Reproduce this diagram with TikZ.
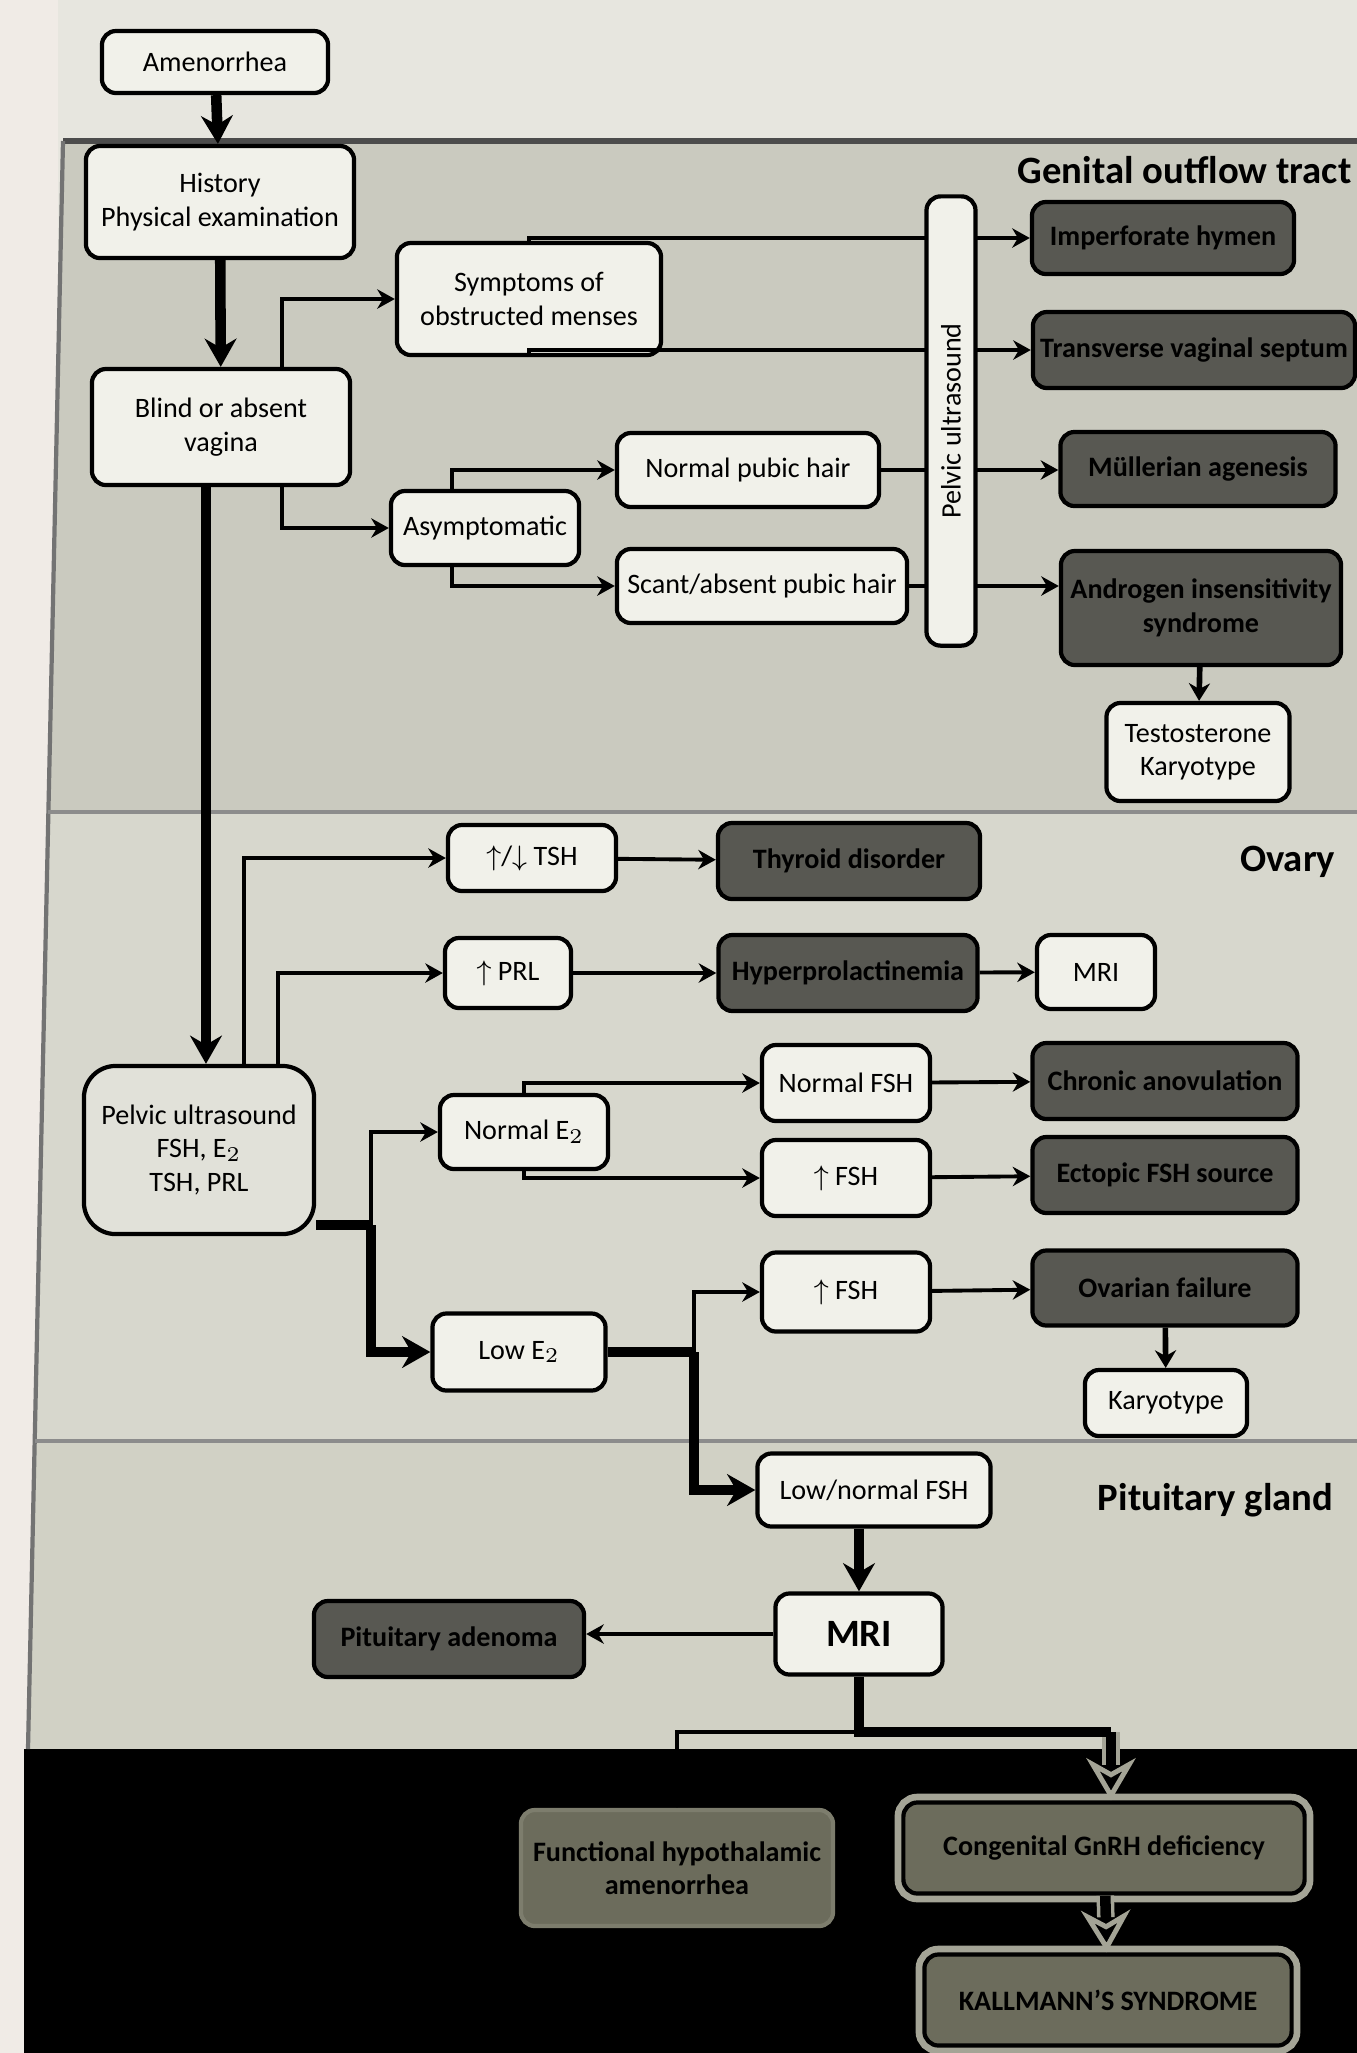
\documentclass[tikz,border=0pt]{standalone}
\usepackage{fontspec}
\setmainfont{Carlito}
\usepackage{tikz}
\usetikzlibrary{shapes.geometric, arrows, arrows.meta}
\definecolor{paper}{HTML}{E7E6DF}
\definecolor{margin}{HTML}{F0EBE6}
\definecolor{outflow}{HTML}{CACABF}
\definecolor{ovary}{HTML}{D7D7CD}
\definecolor{pituitary}{HTML}{D1D1C5}
\definecolor{boxfill}{HTML}{F1F1EA}
\definecolor{labfill}{HTML}{E1E1D9}
\definecolor{diagfill}{HTML}{585852}
\definecolor{hypofill}{HTML}{6C6C5C}
\definecolor{ringgray}{HTML}{A4A496}
\tikzstyle{box} = [rectangle, rounded corners=4pt, draw=black, line width=1.2pt, fill=boxfill, text centered, align=center, font=\footnotesize, inner sep=2pt]
\tikzstyle{diag} = [box, fill=diagfill, font=\footnotesize\bfseries]
\tikzstyle{hypo} = [box, fill=hypofill, font=\footnotesize\bfseries, preaction={draw=ringgray, line width=5pt}]
\tikzstyle{hypoplain} = [box, fill=hypofill, draw=hypofill!70!ringgray, font=\footnotesize\bfseries]
\tikzstyle{region} = [font=\fontsize{11}{13}\selectfont\bfseries, inner sep=0pt]
\tikzstyle{arrow} = [line width=1.1pt,-{Stealth[length=5pt,width=5.5pt]}]
\tikzstyle{midarrow} = [line width=1.6pt,-{Stealth[length=5pt,width=6pt]}]
\tikzstyle{thickarrow} = [line width=3pt,-{Stealth[length=8pt,width=9pt]}]
\tikzstyle{haloarrow} = [line width=3pt,-{Stealth[length=12pt,width=14pt,color=ringgray,fill=black,line width=1.4pt]}]

\begin{document}
\begin{tikzpicture}[x=0.01cm, y=-0.01cm]

% Background
\useasboundingbox (0,0) rectangle (1357,2053);
\fill[paper] (0,0) rectangle (1357,2053);
\fill[margin] (0,0) rectangle (58,2053);
\fill[outflow] (63,141) -- (1357,141) -- (1357,812) -- (48,812) -- cycle;
\fill[ovary] (48,812) -- (1357,812) -- (1357,1441) -- (35,1441) -- cycle;
\fill[pituitary] (35,1441) -- (1357,1441) -- (1357,1749) -- (28,1749) -- cycle;
\fill[black] (24,1749) rectangle (1357,2053);
\draw[line width=1.5pt, black!70] (63,141) -- (1357,141);
\draw[line width=1.2pt, black!55] (63,141) -- (28,1749);
\draw[line width=1.2pt, black!45] (48,812) -- (1357,812);
\draw[line width=1.2pt, black!45] (35,1441) -- (1357,1441);

% Labels
\node (outflowlbl) [region, anchor=east] at (1352,170) {Genital outflow tract};
\node (ovarylbl) [region, anchor=east] at (1336,862) {Ovary};
\node (pitlbl) [region, anchor=east] at (1334,1500) {Pituitary gland};

% Nodes
\node (amen) [box, minimum width=2.26cm, minimum height=0.62cm] at (215,62) {Amenorrhea};
\node (hist) [box, minimum width=2.68cm, minimum height=1.12cm] at (220,202) {History\\Physical examination};
\node (blind) [box, minimum width=2.58cm, minimum height=1.16cm] at (221,427) {Blind or absent\\vagina};
\node (sympt) [box, minimum width=2.64cm, minimum height=1.12cm] at (529,299) {Symptoms of\\obstructed menses};
\node (asym) [box, minimum width=1.88cm, minimum height=0.74cm] at (485,528) {Asymptomatic};
\node (normhair) [box, minimum width=2.62cm, minimum height=0.74cm] at (748,470) {Normal pubic hair};
\node (scant) [box, minimum width=2.9cm, minimum height=0.74cm] at (762,586) {Scant/absent pubic hair};
\node (hymen) [diag, minimum width=2.62cm, minimum height=0.72cm] at (1163,238) {Imperforate hymen};
\node (septum) [diag, minimum width=3.22cm, minimum height=0.76cm] at (1194,350) {Transverse vaginal septum};
\node (mull) [diag, minimum width=2.75cm, minimum height=0.74cm] at (1198,469) {Müllerian agenesis};
\node (ais) [diag, minimum width=2.8cm, minimum height=1.14cm] at (1201,608) {Androgen insensitivity\\syndrome};
\node (testo) [box, minimum width=1.83cm, minimum height=0.98cm] at (1198,752) {Testosterone\\Karyotype};

\node (tsh) [box, minimum width=1.68cm, minimum height=0.66cm] at (532,858) {$\uparrow$/$\downarrow$ TSH};
\node (thyroid) [diag, minimum width=2.62cm, minimum height=0.76cm] at (849,861) {Thyroid disorder};
\node (prl) [box, minimum width=1.26cm, minimum height=0.7cm] at (508,973) {$\uparrow$ PRL};
\node (hyperprl) [diag, minimum width=2.59cm, minimum height=0.76cm] at (848,973) {Hyperprolactinemia};
\node (mrione) [box, minimum width=1.18cm, minimum height=0.74cm] at (1096,972) {MRI};
\node (pelvic) [box, fill=labfill, rounded corners=9pt, minimum width=2.3cm, minimum height=1.68cm] at (199,1150) {Pelvic ultrasound\\FSH, E$_2$\\TSH, PRL};
\node (normetwo) [box, minimum width=1.68cm, minimum height=0.74cm] at (524,1132) {Normal E$_2$};
\node (normfsh) [box, minimum width=1.68cm, minimum height=0.76cm] at (846,1083) {Normal FSH};
\node (upfshone) [box, minimum width=1.68cm, minimum height=0.76cm] at (846,1178) {$\uparrow$ FSH};
\node (chronic) [diag, minimum width=2.65cm, minimum height=0.76cm] at (1165,1081) {Chronic anovulation};
\node (ectopic) [diag, minimum width=2.65cm, minimum height=0.76cm] at (1165,1175) {Ectopic FSH source};
\node (lowetwo) [box, minimum width=1.73cm, minimum height=0.77cm] at (519,1352) {Low E$_2$};
\node (upfshtwo) [box, minimum width=1.68cm, minimum height=0.79cm] at (846,1292) {$\uparrow$ FSH};
\node (ovfail) [diag, minimum width=2.65cm, minimum height=0.75cm] at (1165,1288) {Ovarian failure};
\node (karyo) [box, minimum width=1.62cm, minimum height=0.66cm] at (1166,1403) {Karyotype};

\node (lownorm) [box, minimum width=2.33cm, minimum height=0.73cm] at (874,1490) {Low/normal FSH};
\node (mritwo) [box, font=\fontsize{11}{13}\selectfont\bfseries, minimum width=1.67cm, minimum height=0.81cm] at (859,1634) {MRI};
\node (adenoma) [diag, minimum width=2.7cm, minimum height=0.76cm] at (449,1639) {Pituitary adenoma};
\node (functional) [hypoplain, minimum width=3.12cm, minimum height=1.16cm] at (677,1868) {Functional hypothalamic\\amenorrhea};
\node (congenital) [hypo, minimum width=4.01cm, minimum height=0.91cm] at (1104,1848) {Congenital GnRH deficiency};
\node (kallmann) [hypo, minimum width=3.67cm, minimum height=0.91cm] at (1108,2000) {KALLMANN'S SYNDROME};

% Arrows
\draw [thickarrow] (amen) -- (hist);
\draw [thickarrow] (hist) -- (blind);
\draw [arrow] ([xshift=0.61cm]blind.north) |- (sympt.west);
\draw [arrow] ([xshift=0.61cm]blind.south) |- (asym.west);
\draw [arrow] (sympt.north) |- (hymen.west);
\draw [arrow] (sympt.south) |- (septum.west);
\draw [arrow] ([xshift=-0.33cm]asym.north) |- (normhair.west);
\draw [arrow] ([xshift=-0.33cm]asym.south) |- (scant.west);
\draw [arrow] (normhair.east) -- (normhair.east -| mull.west);
\draw [arrow] (scant.east) -- (scant.east -| ais.west);
\draw [midarrow] (ais) -- (testo);
\node (pus) [box, rotate=90, minimum width=4.49cm, minimum height=0.49cm, inner sep=1pt] at (951,421) {Pelvic ultrasound};

\draw [thickarrow] ([xshift=-0.15cm]blind.south) -- ([xshift=-0.15cm]blind.south |- pelvic.north);
\draw [arrow] ([xshift=0.45cm]pelvic.north) |- (tsh.west);
\draw [arrow] ([xshift=0.79cm]pelvic.north) |- (prl.west);
\draw [arrow] (tsh) -- (thyroid);
\draw [arrow] (prl) -- (hyperprl);
\draw [arrow] (hyperprl) -- (mrione);
\coordinate (splitone) at (371,1225);
\draw [line width=3pt] (pelvic.east |- splitone) -- (splitone);
\draw [thickarrow] (splitone) |- (lowetwo.west);
\draw [arrow] (splitone) |- (normetwo.west);
\draw [arrow] (normetwo.north) |- (normfsh.west);
\draw [arrow] (normetwo.south) |- (upfshone.west);
\draw [arrow] (normfsh) -- (chronic);
\draw [arrow] (upfshone) -- (ectopic);
\coordinate (splittwo) at (694,1352);
\draw [line width=3pt] (lowetwo.east) -- (splittwo);
\draw [thickarrow] (splittwo) |- (lownorm.west);
\draw [arrow] (splittwo) |- (upfshtwo.west);
\draw [arrow] (upfshtwo) -- (ovfail);
\draw [midarrow] (ovfail) -- (karyo);

\draw [thickarrow] (lownorm.south -| mritwo.north) -- (mritwo.north);
\draw [arrow] (mritwo.west) -- (mritwo.west -| adenoma.east);
\coordinate (splitthree) at (859,1732);
\draw [arrow] (splitthree) -| (functional.north);
\draw [line width=5pt, ringgray, shorten >=10pt] ([xshift=0.07cm]congenital.north |- splitthree) -- ([xshift=0.07cm]congenital.north);
\draw [line width=3pt] (mritwo.south) -- (splitthree) -- ([xshift=0.07cm]congenital.north |- splitthree);
\draw [haloarrow] ([xshift=0.07cm]congenital.north |- splitthree) -- ([xshift=0.07cm]congenital.north);
\draw [line width=5pt, ringgray, shorten >=10pt] (congenital) -- (kallmann);
\draw [haloarrow] (congenital) -- (kallmann);

\end{tikzpicture}
\end{document}
